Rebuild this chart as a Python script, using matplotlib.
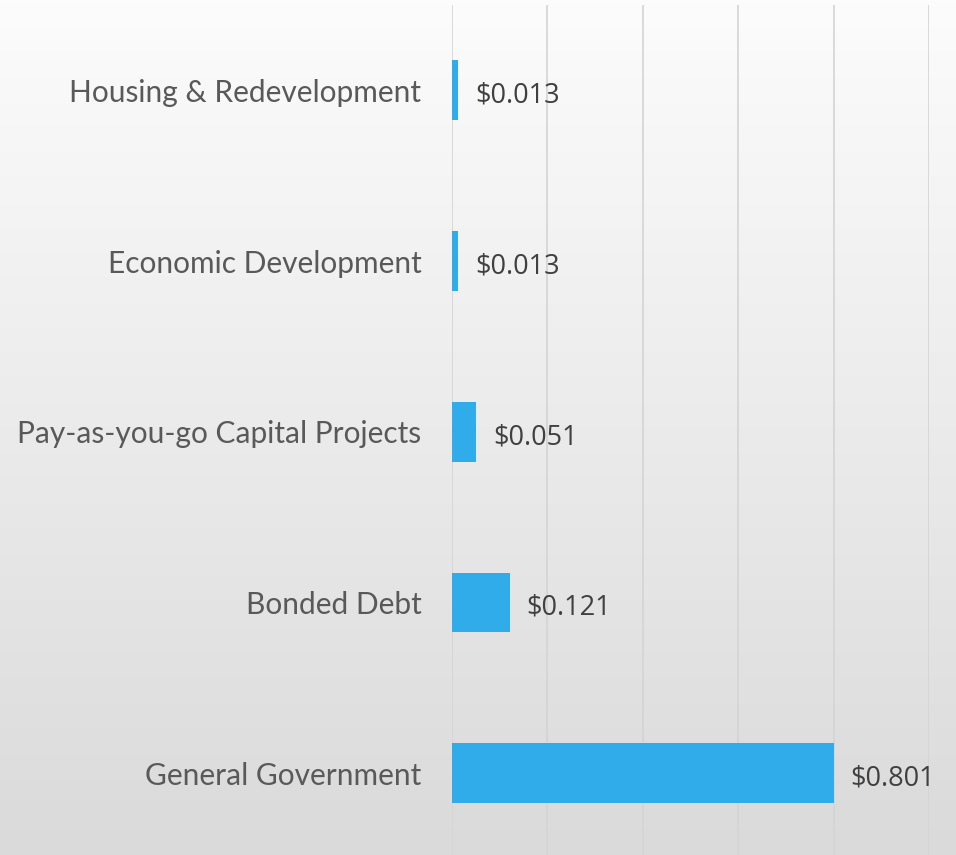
import numpy as np
import matplotlib.pyplot as plt

categories = ["General Government", "Bonded Debt", "Pay-as-you-go Capital Projects",
              "Economic Development", "Housing & Redevelopment"]
values = [0.801, 0.121, 0.051, 0.013, 0.013]
value_labels = ["$0.801", "$0.121", "$0.051", "$0.013", "$0.013"]

plt.rcParams['font.family'] = ['Lato', 'DejaVu Sans']

fig = plt.figure(figsize=(9.56, 8.55), dpi=100)

# background gradient, white at top to light grey at bottom
bg = fig.add_axes([0, 0, 1, 1], zorder=-10)
grad = np.linspace(0, 1, 256).reshape(-1, 1)
bg.imshow(grad, aspect='auto', cmap=plt.matplotlib.colors.LinearSegmentedColormap.from_list(
    'bg', ['#fcfcfc', '#dadada']), extent=[0, 1, 0, 1])
bg.axis('off')

ax = fig.add_axes([452 / 956, 0, 477 / 956, 850 / 855])
ax.patch.set_alpha(0)
y = np.arange(len(categories))
ax.barh(y, values, height=0.35, color='#31acea', zorder=3)
ax.set_xlim(0, 1.0)
ax.set_ylim(-0.48, 4.50)
ax.set_xticks(np.arange(0, 1.01, 0.2))
ax.xaxis.grid(True, color='#d4d4d4', linewidth=1.2)
ax.tick_params(axis='x', length=0, labelbottom=False)
ax.tick_params(axis='y', length=0, pad=22)
ax.set_yticks(y)
ax.set_yticklabels(categories, fontsize=21.5, color='#595959')
for s in ax.spines.values():
    s.set_visible(False)

for yi, v, lab in zip(y, values, value_labels):
    ax.annotate(lab, (v, yi), xytext=(12, -4), textcoords='offset points',
                va='center', ha='left', fontsize=19.5, color='#404040',
                family=['Open Sans', 'DejaVu Sans'])

fig.savefig('out.png', dpi=100)
